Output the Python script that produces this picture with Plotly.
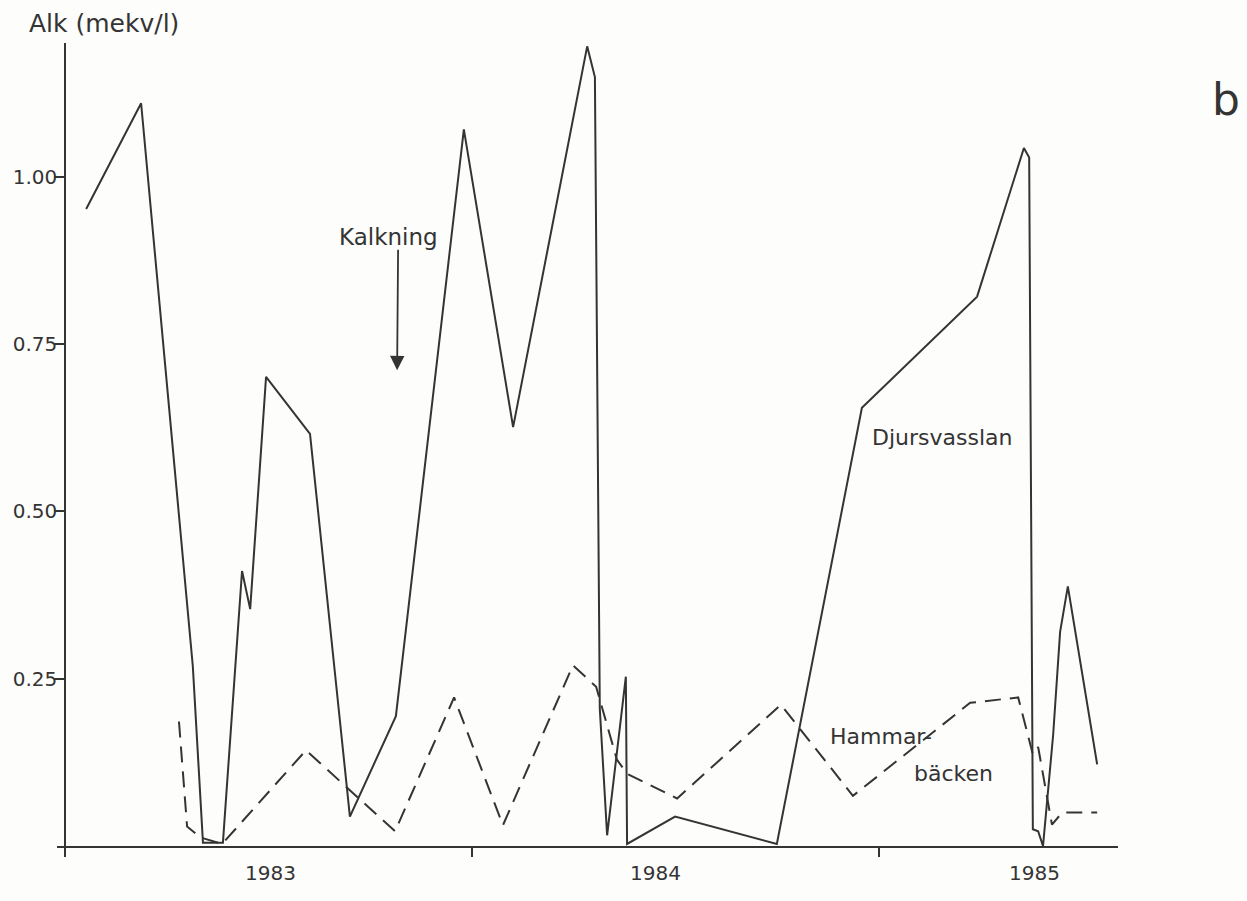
import plotly.graph_objects as go

# Alkalinity (mekv/l) sampled at decimal-year dates
djurs_x = [1983.052, 1983.187, 1983.314, 1983.339, 1983.388, 1983.435, 1983.455,
           1983.494, 1983.602, 1983.700, 1983.813, 1983.980, 1984.101, 1984.283,
           1984.302, 1984.314, 1984.332, 1984.378, 1984.381, 1984.499, 1984.749,
           1984.958, 1985.241, 1985.356, 1985.369, 1985.378, 1985.391, 1985.403,
           1985.428, 1985.445, 1985.464, 1985.536]
djurs_y = [0.952, 1.110, 0.269, 0.005, 0.005, 0.411, 0.354,
           0.701, 0.616, 0.044, 0.194, 1.071, 0.626, 1.195,
           1.149, 0.205, 0.016, 0.253, 0.003, 0.044, 0.003,
           0.655, 0.821, 1.043, 1.029, 0.025, 0.022, 0.000,
           0.167, 0.320, 0.388, 0.122]

hammar_x = [1983.280, 1983.300, 1983.332, 1983.386, 1983.592, 1983.811, 1983.956,
            1984.076, 1984.248, 1984.305, 1984.356, 1984.381, 1984.504, 1984.759,
            1984.936, 1985.224, 1985.342, 1985.351, 1985.378, 1985.391, 1985.420,
            1985.425, 1985.450, 1985.536]
hammar_y = [0.186, 0.029, 0.013, 0.003, 0.143, 0.022, 0.222,
            0.031, 0.270, 0.238, 0.129, 0.108, 0.071, 0.211,
            0.075, 0.214, 0.222, 0.201, 0.137, 0.148, 0.052,
            0.032, 0.050, 0.050]

year_ticks = [1983, 1984, 1985]
year_labels = ["1983", "1984", "1985"]
year_label_pos = [1983.504, 1984.450, 1985.383]
y_ticks = [0.25, 0.50, 0.75, 1.00]
y_labels = ["0.25", "0.50", "0.75", "1.00"]

INK = "#343434"
FONT = "DejaVu Sans"

# plot area in pixels
L, R, T, B = 57, 1118, 43, 846
W, H = R - L, B - T


def px(xp):
    return (xp - L) / W


def py(yp):
    return (B - yp) / H


fig = go.Figure()
fig.add_trace(go.Scatter(x=djurs_x, y=djurs_y, mode="lines",
                         line=dict(color=INK, width=2), cliponaxis=False,
                         showlegend=False, hoverinfo="skip"))
fig.add_trace(go.Scatter(x=hammar_x, y=hammar_y, mode="lines",
                         line=dict(color=INK, width=2, dash="16px,9px"),
                         cliponaxis=False, showlegend=False, hoverinfo="skip"))

x0 = 1983 - 8 / 407
x1 = 1983 + 1053 / 407

fig.update_layout(
    width=1247, height=901,
    margin=dict(l=L, r=1247 - R, t=T, b=901 - B, autoexpand=False),
    paper_bgcolor="#fdfdfb", plot_bgcolor="#fdfdfb",
    font=dict(family=FONT, color=INK),
    xaxis=dict(range=[x0, x1], showgrid=False, zeroline=False, automargin=False,
               showline=True, linecolor=INK, linewidth=1.6,
               tickmode="array", tickvals=year_ticks, ticks="outside",
               ticklen=9, tickwidth=1.6, tickcolor=INK, showticklabels=False),
    yaxis=dict(range=[0, 1.2], showgrid=False, zeroline=False, automargin=False,
               anchor="free", position=8 / W,
               showline=True, linecolor=INK, linewidth=1.6,
               tickmode="array", tickvals=y_ticks, ticktext=y_labels,
               ticks="outside", ticklen=10, tickwidth=1.6, tickcolor=INK,
               ticklabelstandoff=-7,
               tickfont=dict(size=20, family=FONT, color=INK)),
)

annotations = []
for pos, lab in zip(year_label_pos, year_labels):
    annotations.append(dict(x=pos, y=py(873), xref="x", yref="paper", text=lab,
                            showarrow=False, font=dict(size=20, family=FONT, color=INK),
                            xanchor="center", yanchor="middle"))

annotations += [
    dict(x=px(27), y=py(24), xref="paper", yref="paper",
         text="Alk (mekv/l)", showarrow=False, xanchor="left", yanchor="middle",
         font=dict(size=25, family=FONT, color=INK)),
    dict(x=px(1226), y=py(100), xref="paper", yref="paper",
         text="b", showarrow=False, xanchor="center", yanchor="middle",
         font=dict(size=44, family=FONT, color=INK)),
    dict(x=1983.794, y=(846 - 237) / 669, xref="x", yref="y",
         text="Kalkning", showarrow=False, xanchor="center", yanchor="middle",
         font=dict(size=23, family=FONT, color=INK)),
    dict(x=1983.816, y=0.711, xref="x", yref="y", text="",
         showarrow=True, ax=1, ay=-122, arrowhead=2, arrowsize=1.6,
         arrowwidth=1.8, arrowcolor=INK, standoff=0),
    dict(x=1984.958 + 8 / 407, y=(846 - 438) / 669, xref="x", yref="y",
         text="Djursvasslan", showarrow=False, xanchor="left", yanchor="middle",
         font=dict(size=22, family=FONT, color=INK)),
    dict(x=1983 + (828 - 65) / 407, y=(849 - 740) / 669, xref="x", yref="y",
         text="Hammar-", showarrow=False, xanchor="left", yanchor="middle",
         font=dict(size=22, family=FONT, color=INK)),
    dict(x=1983 + (912 - 65) / 407, y=(850 - 778) / 669, xref="x", yref="y",
         text="bäcken", showarrow=False, xanchor="left", yanchor="middle",
         font=dict(size=22, family=FONT, color=INK)),
]
fig.update_layout(annotations=annotations)

fig.write_html("out.html")
